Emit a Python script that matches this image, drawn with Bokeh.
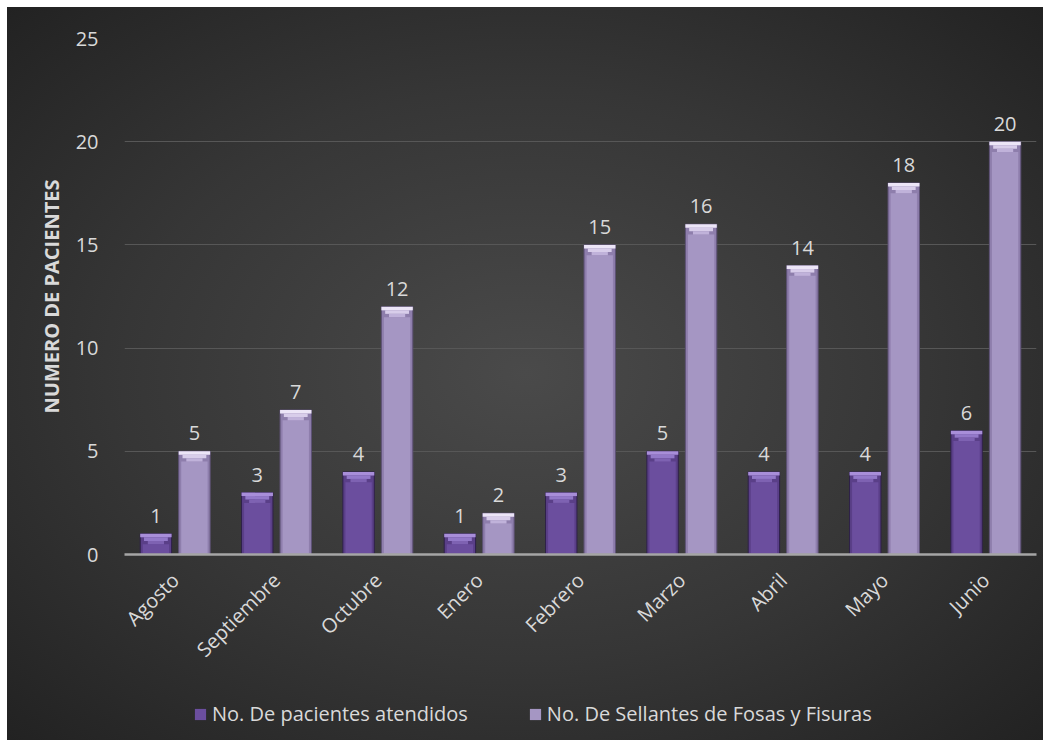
from math import pi
from bokeh.plotting import figure
from bokeh.models import FactorRange, Range1d, Legend, LegendItem, ColumnDataSource, FixedTicker
from bokeh.layouts import column
from bokeh.transform import dodge
from bokeh.core.properties import value
from bokeh.embed import file_html
from bokeh.resources import INLINE

months = ["Agosto", "Septiembre", "Octubre", "Enero", "Febrero", "Marzo", "Abril", "Mayo", "Junio"]
pacientes = [1, 3, 4, 1, 3, 5, 4, 4, 6]
sellantes = [5, 7, 12, 2, 15, 16, 14, 18, 20]
y_ticks = [0, 5, 10, 15, 20, 25]
series_names = ["No. De pacientes atendidos", "No. De Sellantes de Fosas y Fisuras"]
y_title = "NUMERO DE PACIENTES"

FONT = "Open Sans"
TXT = "#d9d9d9"
W = 0.31
OFF = 0.19
BEVEL = [0.17, 0.34, 0.5]  # depth of the bevel tiers (data units)

DARK = dict(outer="#5a3f88", edge="#2e2048", inner="#6b4e9e",
            tiers=["#a88ed9", "#9379c9", "#7e62b2"])
LIGHT = dict(outer="#8e7eac", edge="#5e5276", inner="#a596c3",
             tiers=["#ece5f7", "#d8cdea", "#c0b2da"])

data = dict(month=months, pac=pacientes, sel=sellantes,
            pac_lbl=[str(v) for v in pacientes], sel_lbl=[str(v) for v in sellantes])
for i, d in enumerate(BEVEL):
    data[f"pac_b{i}"] = [v - d for v in pacientes]
    data[f"sel_b{i}"] = [v - d for v in sellantes]
src = ColumnDataSource(data)

p = figure(x_range=FactorRange(*months, range_padding=0), y_range=Range1d(0, 25),
           width=1036, height=680, output_backend="svg", toolbar_location=None,
           min_border_left=117, min_border_right=7, min_border_top=31, min_border_bottom=133)

p.background_fill_alpha = 0
p.border_fill_alpha = 0
p.outline_line_color = None

# grid
p.xgrid.grid_line_color = None
p.ygrid.grid_line_color = "#575757"
p.ygrid.grid_line_width = 1

# y axis
p.yaxis.ticker = FixedTicker(ticks=y_ticks)
p.yaxis.axis_line_color = None
p.yaxis.major_tick_line_color = None
p.yaxis.minor_tick_line_color = None
p.yaxis.major_label_text_font = FONT
p.yaxis.major_label_text_font_size = "20px"
p.yaxis.major_label_text_color = TXT
p.yaxis.major_label_standoff = 20
p.yaxis.axis_label = y_title
p.yaxis.axis_label_text_font = FONT
p.yaxis.axis_label_text_font_style = "bold"
p.yaxis.axis_label_text_font_size = "20px"
p.yaxis.axis_label_text_color = TXT
p.yaxis.axis_label_standoff = 8

# x axis
p.xaxis.axis_line_color = "#a6a6a6"
p.xaxis.axis_line_width = 2.5
p.xaxis.major_tick_line_color = None
p.xaxis.minor_tick_line_color = None
p.xaxis.major_label_orientation = pi / 4
p.xaxis.major_label_text_font = FONT
p.xaxis.major_label_text_font_size = "20px"
p.xaxis.major_label_text_color = TXT
p.xaxis.major_label_standoff = 16

xd = dodge("month", -OFF, range=p.x_range)
xl = dodge("month", OFF, range=p.x_range)

def bars(x, key, c):
    p.vbar(x=x, top=key, bottom=0, width=W, source=src,
           fill_color=c["outer"], line_color=c["edge"], line_width=1)
    p.vbar(x=x, top=f"{key}_b2", bottom=0.05, width=W - 0.05, source=src,
           fill_color=c["inner"], line_color=None)
    tops = [key, f"{key}_b0", f"{key}_b1"]
    bots = [f"{key}_b0", f"{key}_b1", f"{key}_b2"]
    for i in range(3):
        p.vbar(x=x, top=tops[i], bottom=bots[i], width=W - 0.075 * i, source=src,
               fill_color=c["tiers"][i], line_color=None)

bars(xd, "pac", DARK)
bars(xl, "sel", LIGHT)

# value labels
for x, col, lbl in ((xd, "pac", "pac_lbl"), (xl, "sel", "sel_lbl")):
    p.text(x=x, y=col, text=lbl, source=src, text_align="center",
           text_baseline="alphabetic", y_offset=-18, text_color=TXT,
           text_font=value(FONT), text_font_size="20px")

# legend strip: a small axis-less figure below the chart; its zero-width bars lie
# outside its visible y range and only provide the legend swatches
pl = figure(width=1036, height=53, output_backend="svg", toolbar_location=None,
            x_axis_type=None, y_axis_type=None, x_range=p.x_range, y_range=Range1d(-10, -9),
            min_border=0)
pl.background_fill_alpha = 0
pl.border_fill_alpha = 0
pl.outline_line_color = None
pl.grid.grid_line_color = None
lg_pac = pl.vbar(x=xd, top="pac", bottom=0, width=0, source=src,
                 fill_color=DARK["inner"], line_color=None)
lg_sel = pl.vbar(x=xl, top="sel", bottom=0, width=0, source=src,
                 fill_color=LIGHT["inner"], line_color=None)

legend = Legend(items=[LegendItem(label=series_names[0], renderers=[lg_pac]),
                       LegendItem(label=series_names[1], renderers=[lg_sel])],
                orientation="horizontal", location=(69, 13))
legend.background_fill_alpha = 0
legend.border_line_alpha = 0
legend.padding = 0
legend.margin = 0
legend.spacing = 60
legend.glyph_width = 14
legend.glyph_height = 14
legend.label_standoff = 5
legend.label_text_font = FONT
legend.label_text_font_size = "20px"
legend.label_text_color = TXT
legend.label_height = 20
pl.add_layout(legend, "center")

layout = column(p, pl, spacing=0)
layout.styles = {"margin-left": "7px", "margin-top": "7px",
                 "background-image": "radial-gradient(ellipse at 50% 50%, #4a4a4a 0%, #363636 55%, #222222 100%)"}

open("out.html", "w").write(file_html(layout, INLINE))
